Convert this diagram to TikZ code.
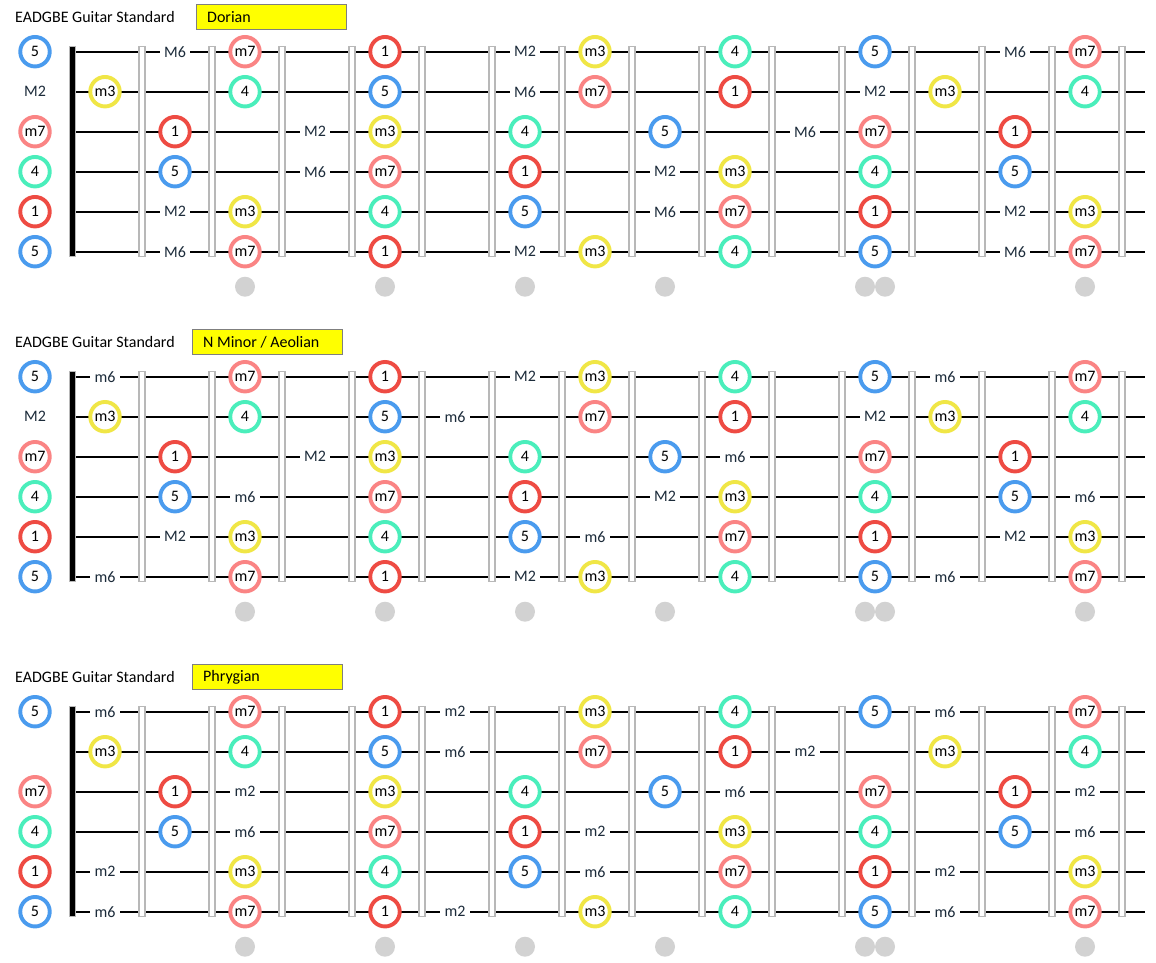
\documentclass[tikz,border=0pt]{standalone}
\usepackage{fontspec}
\setmainfont{Carlito}
\definecolor{cRed}{HTML}{EE4B43}
\definecolor{cBlue}{HTML}{4A9BEE}
\definecolor{cTeal}{HTML}{4AEEBB}
\definecolor{cYel}{HTML}{F0E646}
\definecolor{cSal}{HTML}{FA8484}
\definecolor{fretGray}{HTML}{B8B8B8}
\definecolor{dotGray}{HTML}{D2D2D2}
\definecolor{boxGray}{HTML}{7F7F7F}
\definecolor{boxYel}{HTML}{FFFF00}
\definecolor{ivText}{HTML}{1C2B3A}
\newcommand\fbfont{\fontsize{16}{19}\selectfont}
\tikzset{
  deg/.style={circle, fill=white, line width=3.9pt, minimum size=29.5pt, inner sep=0pt, font=\fbfont},
  iv/.style={fill=white, inner sep=0pt, minimum width=30pt, minimum height=18pt, text=ivText, font=\fbfont},
  strg/.style={line width=2.2pt, black},
  fretw/.style={draw=fretGray, fill=white, line width=1.4pt},
  nutb/.style={fill=black, draw=fretGray, line width=0.8pt},
  inlay/.style={circle, fill=dotGray, minimum size=20pt, inner sep=0pt},
  ttl/.style={anchor=west, inner sep=0pt, font=\fbfont},
  modebox/.style={draw=boxGray, fill=boxYel, line width=1.3pt, minimum width=150pt, minimum height=25pt, anchor=west, inner sep=0pt},
  modetxt/.style={anchor=west, inner sep=0pt, font=\fbfont}
}
% #1 name, #2 x, #3 y, #4 semitone above root, #5 scale (1 Dorian, 2 Aeolian, 3 Phrygian)
\newcommand\fbnote[5]{%
  \ifcase#4\relax
    \node[deg,draw=cRed] (#1) at (#2,#3) {1};%
  \or \ifnum#5=3 \node[iv] (#1) at (#2,#3) {m2};\fi
  \or \ifnum#5<3 \node[iv] (#1) at (#2,#3) {M2};\fi
  \or \node[deg,draw=cYel] (#1) at (#2,#3) {m3};%
  \or
  \or \node[deg,draw=cTeal] (#1) at (#2,#3) {4};%
  \or
  \or \node[deg,draw=cBlue] (#1) at (#2,#3) {5};%
  \or \ifnum#5>1 \node[iv] (#1) at (#2,#3) {m6};\fi
  \or \ifnum#5=1 \node[iv] (#1) at (#2,#3) {M6};\fi
  \or \node[deg,draw=cSal] (#1) at (#2,#3) {m7};%
  \or
  \fi}
\begin{document}
\begin{tikzpicture}[x=1pt,y=-1pt]
\useasboundingbox (0,0) rectangle (1156,962);
\foreach \b/\yo/\sc/\bx/\mname in {1/51.7/1/196/{Dorian}, 2/376.7/2/192/{N Minor / Aeolian}, 3/711.7/3/192/{Phrygian}}{
  % title and mode box
  \pgfmathsetmacro\ty{\yo-34.7}
  \node[ttl] (title\b) at (15,\ty) {EADGBE Guitar Standard};
  \node[modebox] (box\b) at (\bx,\ty) {};
  \pgfmathsetmacro\tx{\bx+11}
  \node[modetxt] (mode\b) at (\tx,\ty) {\mname};
  % strings
  \pgfmathsetmacro\ya{\yo-5}
  \pgfmathsetmacro\yb{\yo+205}
  \foreach \r in {1,...,6}{
    \pgfmathsetmacro\yy{\yo+40*(\r-1)}
    \coordinate (b\b s\r a) at (75,\yy);
    \coordinate (b\b s\r z) at (1145,\yy);
    \draw[strg] (b\b s\r a) -- (b\b s\r z);
  }
  % nut
  \draw[nutb] (69,\ya) rectangle (75,\yb);
  % frets
  \foreach \j in {1,...,15}{
    \pgfmathsetmacro\fxa{72+70*\j-3}
    \pgfmathsetmacro\fxb{72+70*\j+3}
    \draw[fretw] (\fxa,\ya) rectangle (\fxb,\yb);
  }
  % notes
  \foreach \r/\o in {1/7,2/2,3/10,4/5,5/0,6/7}{
    \pgfmathsetmacro\yy{\yo+40*(\r-1)}
    \foreach \n in {0,...,15}{
      \pgfmathsetmacro\xx{35+70*\n}
      \pgfmathtruncatemacro\s{mod(\o+\n,12)}
      \fbnote{b\b-\r-\n}{\xx}{\yy}{\s}{\sc}
    }
  }
  % inlay dots
  \pgfmathsetmacro\dy{\yo+235}
  \foreach \n in {3,5,7,9,15}{
    \pgfmathsetmacro\xx{35+70*\n}
    \node[inlay] (dot\b-\n) at (\xx,\dy) {};
  }
  \node[inlay] (dot\b-12a) at (865,\dy) {};
  \node[inlay] (dot\b-12b) at (885,\dy) {};
}
\end{tikzpicture}
\end{document}
